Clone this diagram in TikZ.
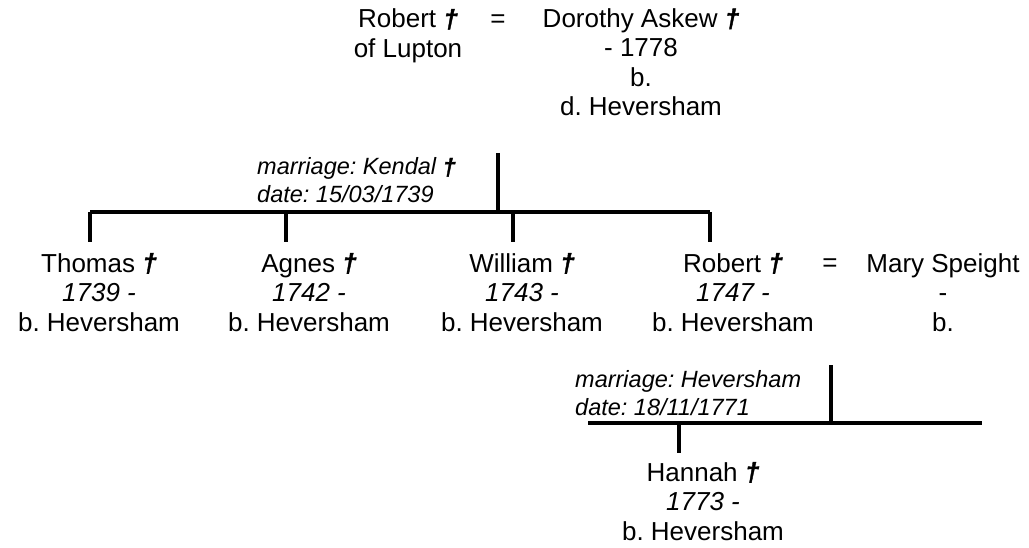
\documentclass[tikz,border=0pt]{standalone}
\usepackage{fontspec}
\setmainfont{Liberation Sans}
\newfontfamily\dagfont[BoldItalicFeatures={FakeBold=1.5}]{Liberation Sans}
\frenchspacing
\newcommand{\dagmark}{{\dagfont\bfseries\itshape †}}
\begin{document}
\begin{tikzpicture}[x=1pt,y=-1pt,
  txt/.style={align=center, anchor=base, font=\fontsize{26}{29.5}\selectfont\frenchspacing, inner sep=0pt},
  mlabel/.style={align=left, anchor=base west, font=\fontsize{23.5}{28}\selectfont\itshape\frenchspacing, inner sep=0pt},
  line/.style={line width=3.5pt}]
\useasboundingbox (0,0) rectangle (1029,548);
% top couple (anchor = baseline of last line)
\node[txt] (robert) at (408,57.5) {Robert \dagmark\\of Lupton};
\node[txt] (eq1) at (498,28) {=};
\node[txt] (dorothy) at (641,116) {Dorothy Askew \dagmark\\- 1778\\b.\\d. Heversham};
\node[mlabel] (m1label) at (257,203) {marriage: Kendal \dagmark\\date: 15/03/1739};
\coordinate (m1) at (498,153);
\coordinate (j1) at (498,212);
\coordinate (b1l) at (90,212);
\coordinate (b1r) at (710,212);
\coordinate (d1) at (90,242);
\coordinate (d2) at (286,242);
\coordinate (d3) at (513,242);
\coordinate (d4) at (710,242);
% children
\node[txt] (thomas) at (99,331) {Thomas \dagmark\\\textit{1739 -}\\b. Heversham};
\node[txt] (agnes) at (309,331) {Agnes \dagmark\\\textit{1742 -}\\b. Heversham};
\node[txt] (william) at (522,331) {William \dagmark\\\textit{1743 -}\\b. Heversham};
\node[txt] (robert2) at (733,331) {Robert \dagmark\\\textit{1747 -}\\b. Heversham};
\node[txt] (eq2) at (830,272) {=};
\node[txt] (mary) at (943,331) {Mary Speight\\-\\b.};
\draw[line] (m1) -- (j1);
\draw[line] (b1l) -- (b1r);
\draw[line] (b1l) -- (d1);
\draw[line] (d2 |- b1l) -- (d2);
\draw[line] (d3 |- b1l) -- (d3);
\draw[line] (b1r) -- (d4);
% second marriage
\node[mlabel] (m2label) at (575,415) {marriage: Heversham\\date: 18/11/1771};
\coordinate (m2) at (831,365);
\coordinate (j2) at (831,423);
\coordinate (b2l) at (588,423);
\coordinate (b2r) at (982,423);
\coordinate (d5) at (679,453);
\draw[line] (m2) -- (j2);
\draw[line] (b2l) -- (b2r);
\draw[line] (d5 |- b2l) -- (d5);
\node[txt] (hannah) at (703,540) {Hannah \dagmark\\\textit{1773 -}\\b. Heversham};
\end{tikzpicture}
\end{document}
